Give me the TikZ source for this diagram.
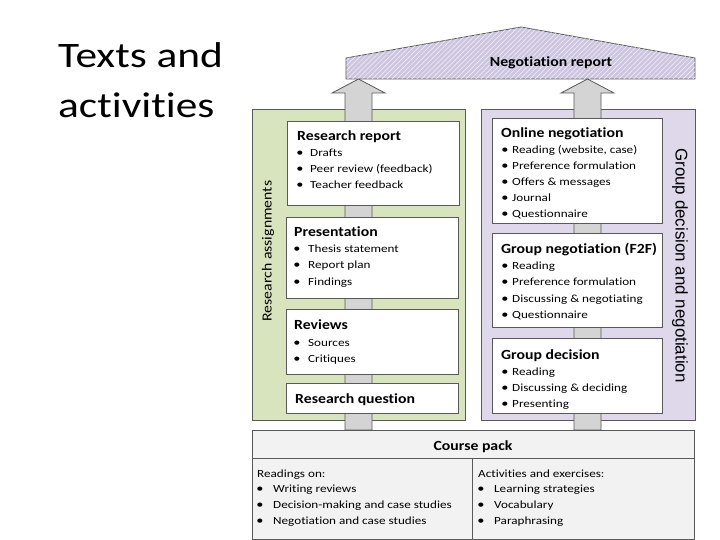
\documentclass[tikz,border=0pt]{standalone}
\usepackage{fontspec}
\setmainfont{Carlito}[Ligatures=NoCommon, FakeStretch=1.2]
\newfontfamily\hdfont{Carlito}[Ligatures=NoCommon, FakeStretch=1.13]
\newfontfamily\bigfont{Carlito}[Ligatures=NoCommon, FakeStretch=1.21]
\newfontfamily\arialfont{Liberation Sans}
\usetikzlibrary{patterns.meta}
\definecolor{greenfill}{RGB}{215,228,189}
\definecolor{purplefill}{RGB}{223,216,234}
\definecolor{roof}{RGB}{206,198,224}
\definecolor{shaftfill}{RGB}{212,212,212}
\definecolor{edge}{RGB}{89,89,89}
\definecolor{packfill}{RGB}{242,242,242}
\begin{document}
\begin{tikzpicture}[x=1bp,y=-1bp,
  panel/.style={draw=edge, line width=0.8pt, anchor=north west, inner sep=0pt},
  box/.style={draw=edge, fill=white, line width=0.8pt, anchor=north west, inner sep=0pt},
  ttl/.style={anchor=base west, font=\hdfont\fontsize{14}{16}\selectfont\bfseries, inner sep=0pt},
  itm/.style={anchor=base west, font=\fontsize{11}{13}\selectfont, inner sep=0pt},
  bul/.style={anchor=base, font=\fontsize{12}{13}\selectfont, inner sep=0pt},
  side/.style={font=\hdfont\fontsize{14}{16}\selectfont, inner sep=0pt},
  arr/.style={draw=edge, fill=shaftfill, line width=0.8pt, line join=miter}]
\useasboundingbox (0,0) rectangle (720,540);

% title
\node[anchor=base west, font=\bigfont\fontsize{36}{44}\selectfont, inner sep=0pt] (t1) at (58,68) {Texts and};
\node[anchor=base west, font=\bigfont\fontsize{36}{44}\selectfont, inner sep=0pt] (t2) at (58,118) {activities};

% roof
\path[draw=edge, line width=0.8pt, fill=roof,
  postaction={pattern={Lines[angle=45,distance=3.5pt,line width=0.5pt]}, pattern color=white!80!roof}]
  (346,58) -- (521,27) -- (695,58) -- (695,79) -- (346,79) -- cycle;
\node[anchor=base, font=\hdfont\fontsize{14}{16}\selectfont\bfseries, inner sep=0pt] (nr) at (551,67) {Negotiation report};

% panels
\node[panel, fill=greenfill, minimum width=213bp, minimum height=311bp] (lp) at (252,109) {};
\node[panel, fill=purplefill, minimum width=214bp, minimum height=311bp] (rp) at (481,109) {};

% arrows
\draw[arr] (345,430) -- (345,93) -- (332,93) -- (358.5,79) -- (385,93) -- (372,93) -- (372,430) -- cycle;
\draw[arr] (574,430) -- (574,93) -- (561,93) -- (587.5,79) -- (614,93) -- (601,93) -- (601,430) -- cycle;

% side labels
\node[side, rotate=90] (ra) at (268,251) {Research assignments};
\node[font=\arialfont\fontsize{17}{19}\selectfont, inner sep=0pt, rotate=-90] (gd) at (680,265.5) {Group decision and negotiation};

% left boxes
\node[box, minimum width=172bp, minimum height=84bp] (rr) at (287,121) {};
\node[ttl] (rrt) at (297,141) {Research report};
\node[bul] (rrb1) at (300,157) {•}; \node[itm] (rri1) at (310,157) {Drafts};
\node[bul] (rrb2) at (300,173) {•}; \node[itm] (rri2) at (310,173) {Peer review (feedback)};
\node[bul] (rrb3) at (300,189) {•}; \node[itm] (rri3) at (310,189) {Teacher feedback};

\node[box, minimum width=172bp, minimum height=81bp] (pr) at (286,217) {};
\node[ttl] (prt) at (294,237) {Presentation};
\node[bul] (prb1) at (297,253) {•}; \node[itm] (pri1) at (308,253) {Thesis statement};
\node[bul] (prb2) at (297,269) {•}; \node[itm] (pri2) at (308,269) {Report plan};
\node[bul] (prb3) at (297,286) {•}; \node[itm] (pri3) at (308,286) {Findings};

\node[box, minimum width=172bp, minimum height=65bp] (rv) at (286,309) {};
\node[ttl] (rvt) at (294,329) {Reviews};
\node[bul] (rvb1) at (297,346) {•}; \node[itm] (rvi1) at (308,346) {Sources};
\node[bul] (rvb2) at (297,362) {•}; \node[itm] (rvi2) at (308,362) {Critiques};

\node[box, minimum width=172bp, minimum height=30bp] (rq) at (286,383) {};
\node[ttl] (rqt) at (295,403) {Research question};

% right boxes
\node[box, minimum width=170bp, minimum height=105bp] (on) at (492,118) {};
\node[ttl] (ont) at (501,138) {Online negotiation};
\node[bul] (onb1) at (505,154) {•}; \node[itm] (oni1) at (512,154) {Reading (website, case)};
\node[bul] (onb2) at (505,170) {•}; \node[itm] (oni2) at (512,170) {Preference formulation};
\node[bul] (onb3) at (505,186) {•}; \node[itm] (oni3) at (512,186) {Offers \& messages};
\node[bul] (onb4) at (505,202) {•}; \node[itm] (oni4) at (512,202) {Journal};
\node[bul] (onb5) at (505,218) {•}; \node[itm] (oni5) at (512,218) {Questionnaire};

\node[box, minimum width=170bp, minimum height=94bp] (gn) at (492,233) {};
\node[ttl] (gnt) at (501,254) {Group negotiation (F2F)};
\node[bul] (gnb1) at (505,270) {•}; \node[itm] (gni1) at (512,270) {Reading};
\node[bul] (gnb2) at (505,286) {•}; \node[itm] (gni2) at (512,286) {Preference formulation};
\node[bul] (gnb3) at (505,302) {•}; \node[itm] (gni3) at (512,302) {Discussing \& negotiating};
\node[bul] (gnb4) at (505,318) {•}; \node[itm] (gni4) at (512,318) {Questionnaire};

\node[box, minimum width=170bp, minimum height=75bp] (gdb) at (492,338) {};
\node[ttl] (gdt) at (501,359) {Group decision};
\node[bul] (gdb1) at (505,375) {•}; \node[itm] (gdi1) at (512,375) {Reading};
\node[bul] (gdb2) at (505,391) {•}; \node[itm] (gdi2) at (512,391) {Discussing \& deciding};
\node[bul] (gdb3) at (505,407) {•}; \node[itm] (gdi3) at (512,407) {Presenting};

% course pack
\node[panel, fill=packfill, minimum width=442bp, minimum height=109bp] (cp) at (252,430) {};
\draw[edge, line width=0.8pt] (252,458) -- (694,458);
\draw[edge, line width=0.8pt] (472,458) -- (472,539);
\node[anchor=base, font=\hdfont\fontsize{14}{16}\selectfont\bfseries, inner sep=0pt] (cpt) at (473,450) {Course pack};
\node[itm] (cl0) at (257,477) {Readings on:};
\node[bul] (clb1) at (260,492) {•}; \node[itm] (cli1) at (273,492) {Writing reviews};
\node[bul] (clb2) at (260,508) {•}; \node[itm] (cli2) at (273,508) {Decision-making and case studies};
\node[bul] (clb3) at (260,524) {•}; \node[itm] (cli3) at (273,524) {Negotiation and case studies};
\node[itm] (cr0) at (478,477) {Activities and exercises:};
\node[bul] (crb1) at (481,492) {•}; \node[itm] (cri1) at (494,492) {Learning strategies};
\node[bul] (crb2) at (481,508) {•}; \node[itm] (cri2) at (494,508) {Vocabulary};
\node[bul] (crb3) at (481,524) {•}; \node[itm] (cri3) at (494,524) {Paraphrasing};
\end{tikzpicture}
\end{document}
